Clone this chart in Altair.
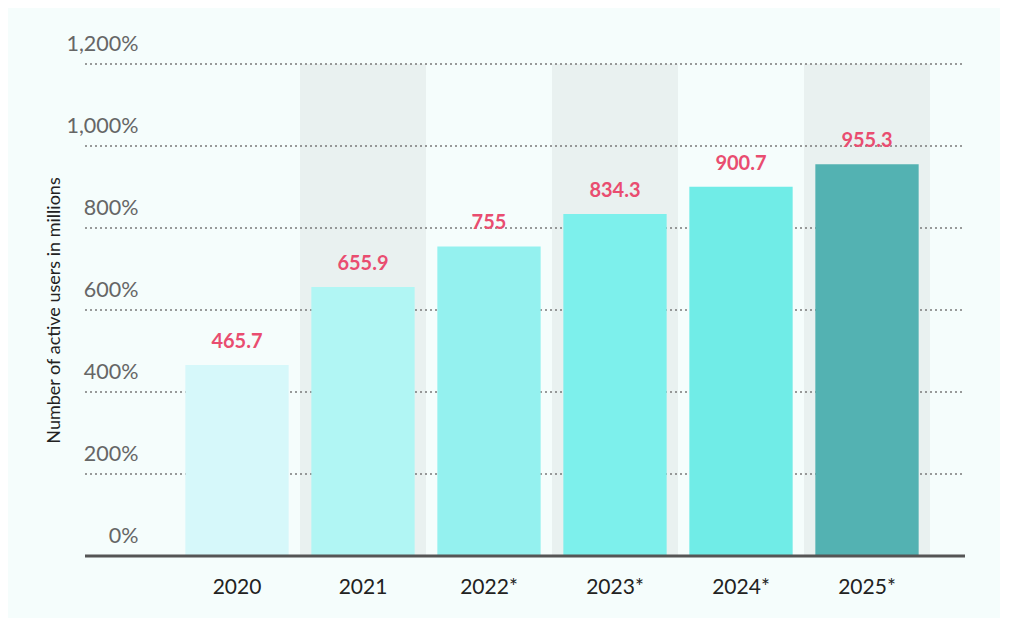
import altair as alt
import pandas as pd

years = ["2020", "2021", "2022*", "2023*", "2024*", "2025*"]
users = [465.7, 655.9, 755, 834.3, 900.7, 955.3]
value_labels = ["465.7", "655.9", "755", "834.3", "900.7", "955.3"]
bar_colors = ["#d6f8fa", "#b1f6f4", "#94f1ef", "#7df0ec", "#70ece7", "#53b2b2"]
shaded_years = ["2021", "2023*", "2025*"]
y_ticks = [0, 200, 400, 600, 800, 1000, 1200]

FONT = "Lato"
W, H = 880, 492

df = pd.DataFrame({"year": years, "users": users, "label": value_labels, "color": bar_colors})
df_bg = pd.DataFrame({"year": shaded_years, "users": [1200] * len(shaded_years)})
df_grid = pd.DataFrame({"users": [t for t in y_ticks if t > 0]})
df_base = pd.DataFrame({"users": [0]})

xscale = alt.Scale(domain=years, range=[89, 845], paddingInner=0.18, paddingOuter=0.09)
yscale = alt.Scale(domain=[0, 1200], nice=False, zero=True)

xaxis = alt.Axis(title=None, domain=False, ticks=False, labelPadding=20,
                 labelFontSize=21, labelColor="#222222", labelFont=FONT,
                 labelAngle=0, grid=False)
yaxis = alt.Axis(values=y_ticks, grid=False, domain=False, ticks=False,
                 labelExpr="format(datum.value, ',') + '%'",
                 labelAlign="right", labelPadding=-53, labelOffset=-14,
                 labelBaseline="alphabetic", labelFontSize=21.5,
                 labelColor="#666666", labelFont=FONT,
                 title="Number of active users in millions",
                 titleX=-31, titleY=H / 2, titleAngle=-90,
                 titleAlign="center", titleBaseline="middle",
                 titleFontSize=18, titleFontWeight="normal",
                 titleColor="#222222", titleFont=FONT, zindex=2)

bg = alt.Chart(df_bg).mark_bar(color="#e9f1f0", width=126).encode(
    x=alt.X("year:N", scale=xscale, sort=years, axis=xaxis),
    y=alt.Y("users:Q", scale=yscale, axis=yaxis),
)

grid = alt.Chart(df_grid).mark_rule(color="#7a7a7a", strokeWidth=1.3, strokeDash=[2, 3]).encode(
    y=alt.Y("users:Q", scale=yscale),
    x=alt.value(0),
    x2=alt.value(W),
)

bars = alt.Chart(df).mark_bar().encode(
    x=alt.X("year:N", scale=xscale, sort=years),
    y=alt.Y("users:Q", scale=yscale),
    color=alt.Color("color:N", scale=None),
)

texts = alt.Chart(df).mark_text(dy=-23, baseline="middle", fontWeight="bold", fontSize=20,
                                color="#e94d70", font=FONT).encode(
    x=alt.X("year:N", scale=xscale, sort=years),
    y=alt.Y("users:Q", scale=yscale),
    text="label:N",
)

base = alt.Chart(df_base).mark_rule(color="#555555", strokeWidth=3).encode(
    y=alt.Y("users:Q", scale=yscale),
    x=alt.value(0),
    x2=alt.value(W),
)

chart = alt.layer(bg, grid, bars, texts, base).properties(
    width=W, height=H,
    autosize=alt.AutoSizeParams(type="none"),
    padding={"left": 77, "top": 56, "right": 35, "bottom": 62},
    background="#f5fdfc",
).configure_view(stroke=None)

chart.save("out.html", embed_options={"renderer": "svg", "actions": False})
